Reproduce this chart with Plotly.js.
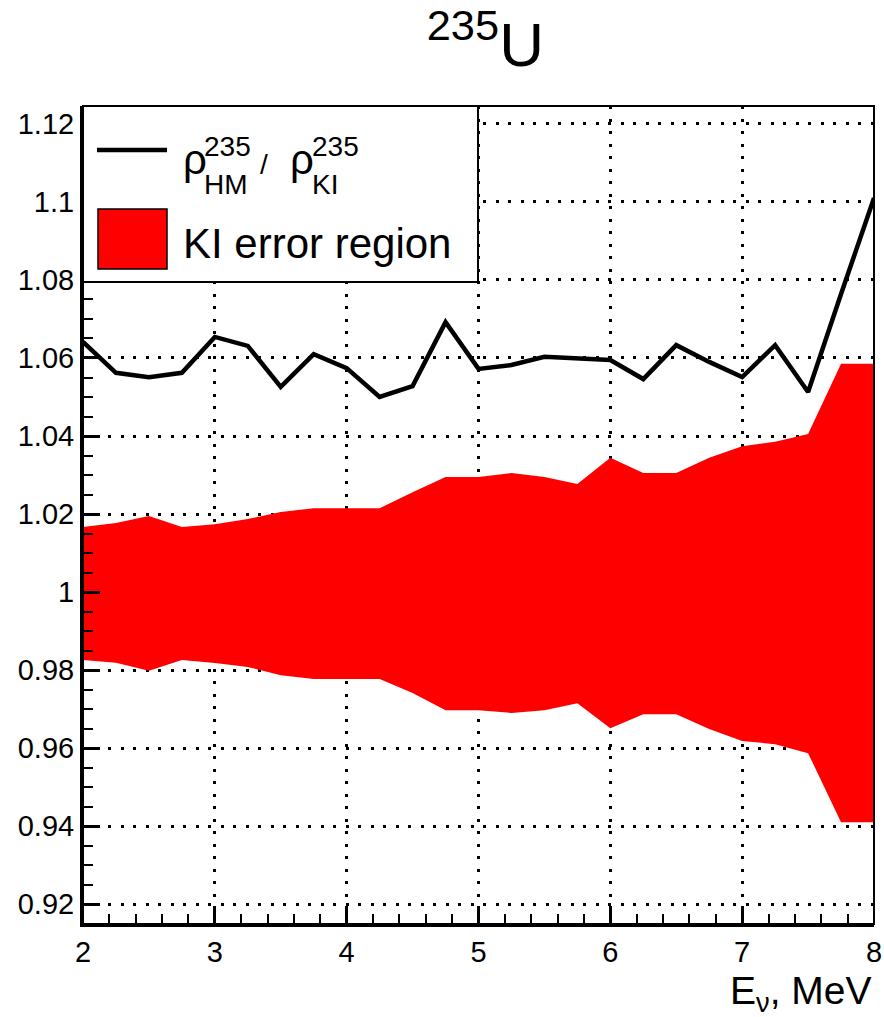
<!DOCTYPE html>
<html>
<head>
<meta charset="utf-8">
<script src="https://cdn.plot.ly/plotly-3.0.1.min.js"></script>
<style>html,body{margin:0;padding:0;background:#fff;}#chart{width:884px;height:1017px;}</style>
</head>
<body>
<div id="chart"></div>
<script>
// Energy bins (MeV)
const energy = [2, 2.25, 2.5, 2.75, 3, 3.25, 3.5, 3.75, 4, 4.25, 4.5, 4.75, 5, 5.25, 5.5, 5.75, 6, 6.25, 6.5, 6.75, 7, 7.25, 7.5, 7.75, 8];
// Ratio rho_HM / rho_KI
const ratioHMKI = [1.0641, 1.0562, 1.0551, 1.0562, 1.0654, 1.0631, 1.0526, 1.0610, 1.0574, 1.0500, 1.0528, 1.0692, 1.0572, 1.0582, 1.0603, 1.0600, 1.0595, 1.0546, 1.0633, 1.0590, 1.0551, 1.0633, 1.0513, 1.0764, 1.1010];
// KI error region bounds
const kiUpper = [1.0167, 1.0177, 1.0195, 1.0167, 1.0174, 1.0187, 1.0205, 1.0215, 1.0215, 1.0215, 1.0256, 1.0295, 1.0295, 1.0305, 1.0295, 1.0277, 1.0344, 1.0305, 1.0305, 1.0344, 1.0374, 1.0385, 1.0405, 1.0585, 1.0585];
const kiLower = [0.9826, 0.9819, 0.9798, 0.9826, 0.9818, 0.9808, 0.9787, 0.9777, 0.9777, 0.9777, 0.9741, 0.9697, 0.9697, 0.9690, 0.9697, 0.9715, 0.9651, 0.9687, 0.9687, 0.9649, 0.9618, 0.9610, 0.9587, 0.9410, 0.9410];
// Tick labels
const yTickVals = [0.92, 0.94, 0.96, 0.98, 1.00, 1.02, 1.04, 1.06, 1.08, 1.10, 1.12];
const yTickText = ["0.92", "0.94", "0.96", "0.98", "1", "1.02", "1.04", "1.06", "1.08", "1.1", "1.12"];
const xTickVals = [2, 3, 4, 5, 6, 7, 8];
const xTickText = ["2", "3", "4", "5", "6", "7", "8"];

const FONT = "Liberation Sans, Arial, Helvetica, sans-serif";

const traces = [
  {x: energy, y: kiLower, type: "scatter", mode: "lines", line: {width: 0, color: "#ff0000"}, showlegend: false, hoverinfo: "skip"},
  {x: energy, y: kiUpper, type: "scatter", mode: "lines", fill: "tonexty", fillcolor: "#ff0000", line: {width: 0, color: "#ff0000"}, showlegend: false, name: "KI error region"},
  {x: energy, y: ratioHMKI, type: "scatter", mode: "lines", line: {width: 4.5, color: "#000000"}, showlegend: false, name: "ratio"}
];

// plot area in pixels: x 83..874, y 106..924
function px(v) { return (v - 83) / 791; }
function py(v) { return (924 - v) / 818; }

const layout = {
  width: 884, height: 1017,
  margin: {l: 83, r: 10, t: 106, b: 93},
  paper_bgcolor: "#ffffff", plot_bgcolor: "#ffffff",
  font: {family: FONT, color: "#000"},
  title: {text: "<sup>235</sup>U", font: {family: FONT, size: 62, color: "#000"}, xref: "container", x: 0.549, xanchor: "center", yref: "container", y: 0.956, yanchor: "middle"},
  showlegend: false,
  xaxis: {
    range: [2, 8], tickvals: xTickVals, ticktext: xTickText,
    ticks: "inside", ticklen: 17, tickwidth: 3, tickcolor: "#000",
    minor: {dtick: 0.2, tick0: 2, ticks: "inside", ticklen: 10, tickwidth: 2, tickcolor: "#000", showgrid: false},
    showline: true, linecolor: "#000", linewidth: 3,
    showgrid: true, gridcolor: "#000", gridwidth: 3, griddash: "3px,9.5px",
    zeroline: false, tickfont: {family: FONT, size: 29, color: "#000"}
  },
  yaxis: {
    range: [0.9149, 1.1246], tickvals: yTickVals, ticktext: yTickText,
    ticks: "inside", ticklen: 17, tickwidth: 3, tickcolor: "#000",
    minor: {dtick: 0.005, tick0: 0.92, ticks: "inside", ticklen: 10, tickwidth: 2, tickcolor: "#000", showgrid: false},
    showline: true, linecolor: "#000", linewidth: 3,
    showgrid: true, gridcolor: "#000", gridwidth: 3, griddash: "3px,9.5px",
    zeroline: false, tickfont: {family: FONT, size: 29, color: "#000"}
  },
  shapes: [
    // frame
    {type: "rect", xref: "paper", yref: "paper", x0: 0, x1: 1, y0: 0, y1: 1, line: {color: "#000", width: 2}, layer: "above"},
    // legend box
    {type: "rect", xref: "paper", yref: "paper", x0: 0, x1: px(478), y0: py(282), y1: 1, fillcolor: "#ffffff", line: {color: "#000", width: 2}, layer: "above"},
    // legend line sample
    {type: "line", xref: "paper", yref: "paper", x0: px(97), x1: px(167), y0: py(150), y1: py(150), line: {color: "#000", width: 4.5}, layer: "above"},
    // legend fill sample
    {type: "rect", xref: "paper", yref: "paper", x0: px(98), x1: px(167), y0: py(269), y1: py(209), fillcolor: "#ff0000", line: {color: "#000", width: 1.5}, layer: "above"}
  ],
  annotations: [
    {text: "ρ", xref: "paper", yref: "paper", x: px(181), y: py(159), xanchor: "left", yanchor: "middle", showarrow: false, font: {family: FONT, size: 42}},
    {text: "235", xref: "paper", yref: "paper", x: px(202), y: py(146), xanchor: "left", yanchor: "middle", showarrow: false, font: {family: FONT, size: 28}},
    {text: "HM", xref: "paper", yref: "paper", x: px(202), y: py(184), xanchor: "left", yanchor: "middle", showarrow: false, font: {family: FONT, size: 28}},
    {text: "/", xref: "paper", yref: "paper", x: px(264), y: py(165), xanchor: "center", yanchor: "middle", showarrow: false, font: {family: FONT, size: 28}},
    {text: "ρ", xref: "paper", yref: "paper", x: px(288), y: py(159), xanchor: "left", yanchor: "middle", showarrow: false, font: {family: FONT, size: 42}},
    {text: "235", xref: "paper", yref: "paper", x: px(310), y: py(146), xanchor: "left", yanchor: "middle", showarrow: false, font: {family: FONT, size: 28}},
    {text: "KI", xref: "paper", yref: "paper", x: px(310), y: py(184), xanchor: "left", yanchor: "middle", showarrow: false, font: {family: FONT, size: 28}},
    {text: "KI error region", xref: "paper", yref: "paper", x: px(181), y: py(244), xanchor: "left", yanchor: "middle", showarrow: false, font: {family: FONT, size: 42}},
    {text: "E<sub>ν</sub>, MeV", xref: "paper", yref: "paper", x: 1, y: py(994), xanchor: "right", yanchor: "middle", showarrow: false, font: {family: FONT, size: 39}}
  ]
};

Plotly.newPlot("chart", traces, layout, {displayModeBar: false, staticPlot: true});
</script>
</body>
</html>
